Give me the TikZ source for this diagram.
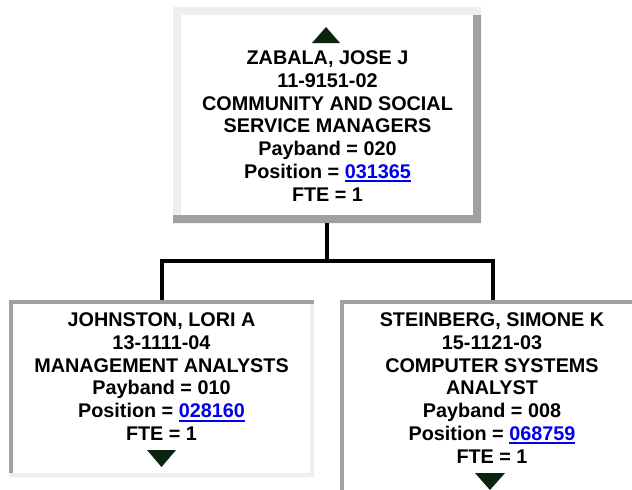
\documentclass[tikz,border=0pt]{standalone}
\usepackage{fontspec}
\setmainfont{Liberation Sans}
\usetikzlibrary{calc}
\definecolor{lightb}{HTML}{EEEEEE}
\definecolor{darkb}{HTML}{A0A0A0}
\definecolor{linkblue}{HTML}{0000EE}
\definecolor{tri}{HTML}{0B2410}
\newcommand\poslink[1]{\textcolor{linkblue}{\setbox0\hbox{#1}\rlap{\rule[-4pt]{\wd0}{2pt}}\box0}}
\begin{document}
\begin{tikzpicture}[x=1pt,y=-1pt,
  boxnode/.style={rectangle,inner sep=0pt,minimum width=#1},
  infotext/.style={align=center,inner sep=0pt,anchor=north,
    font=\fontsize{19.8}{22.7}\selectfont\bfseries},
  conn/.style={line width=4pt,black},
  arrowtri/.style={fill=tri}]
\useasboundingbox (0,0) rectangle (632,490);
\clip (0,0) rectangle (632,490);
\fill[white] (0,0) rectangle (632,490);
% box nodes
\node[boxnode=308pt,minimum height=216pt] (zabala) at (327,115) {};
\node[boxnode=305pt,minimum height=177pt] (johnston) at (161.5,388.5) {};
\node[boxnode=305pt,minimum height=210pt] (steinberg) at (492.5,405) {};
% top box: outset frame
\fill[lightb] (173,7) rectangle (481,223);
\fill[darkb] (481,15) -- (481,223) -- (173,223) -- (173,215) -- (473,215) -- (473,15) -- cycle;
\fill[white] (181,15) rectangle (473,215);
% bottom left: inset frame
\fill[darkb] (9,300) rectangle (314,477);
\fill[lightb] (314,304) -- (314,477) -- (9,477) -- (9,473) -- (310,473) -- (310,304) -- cycle;
\fill[white] (13,304) rectangle (310,473);
% bottom right: inset frame (runs past the lower edge)
\fill[darkb] (340,300) rectangle (645,510);
\fill[lightb] (645,304) -- (645,510) -- (340,510) -- (340,506) -- (641,506) -- (641,304) -- cycle;
\fill[white] (344,304) rectangle (641,506);
% connectors
\coordinate (bus) at (327,261);
\draw[conn] (zabala.south) -- (bus) -| (johnston.north);
\draw[conn] (bus) -| (steinberg.north);
% triangles
\fill[arrowtri] (312,43) -- (326,27) -- (340,43) -- cycle;
\fill[arrowtri] (147,450) -- (176,450) -- (161.5,467) -- cycle;
\fill[arrowtri] (475,473) -- (505,473) -- (490,490) -- cycle;
% texts
\node[infotext] (zabalatext) at (327.5,50.8) {ZABALA, JOSE J\\11-9151-02\\COMMUNITY AND SOCIAL\\SERVICE MANAGERS\\Payband = 020\\Position = \poslink{031365}\\FTE = 1};
\node[infotext] (johnstontext) at (161.5,312.8) {JOHNSTON, LORI A\\13-1111-04\\MANAGEMENT ANALYSTS\\Payband = 010\\Position = \poslink{028160}\\FTE = 1};
\node[infotext] (steinbergtext) at (492,312.8) {STEINBERG, SIMONE K\\15-1121-03\\COMPUTER SYSTEMS\\ANALYST\\Payband = 008\\Position = \poslink{068759}\\FTE = 1};
\end{tikzpicture}
\end{document}
